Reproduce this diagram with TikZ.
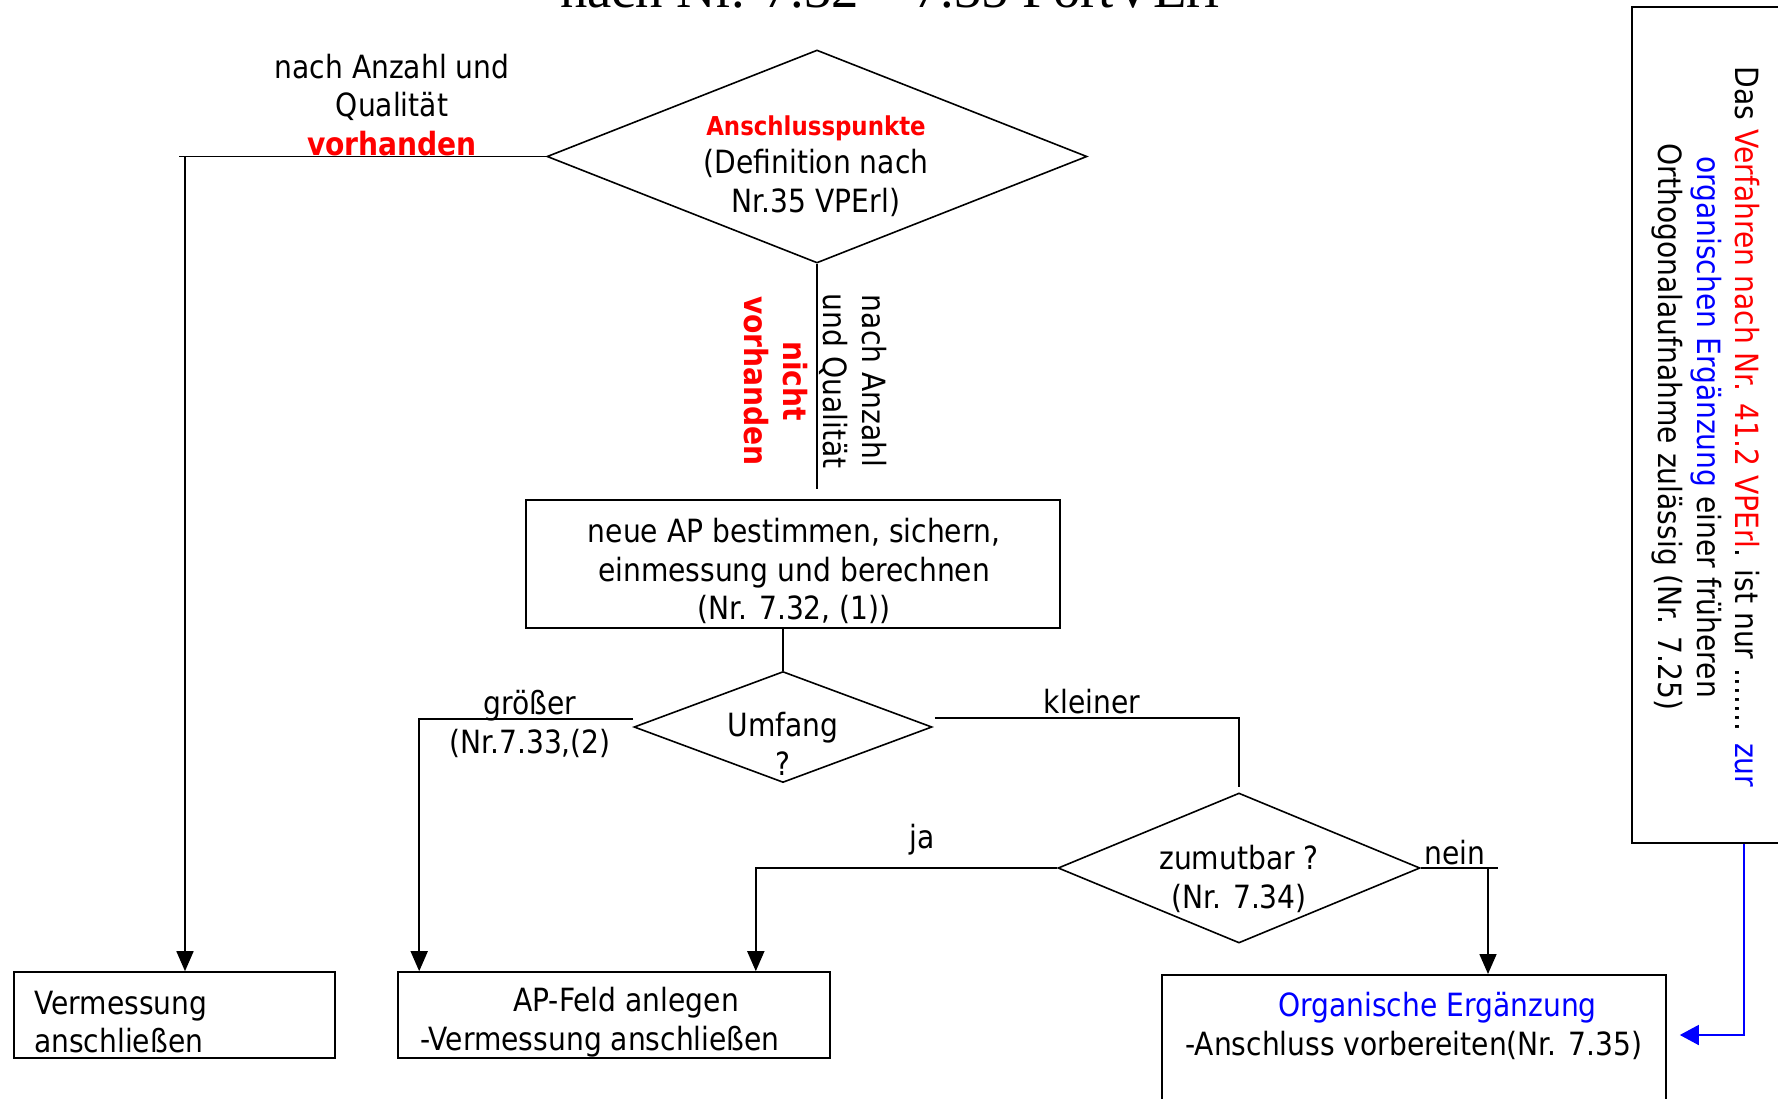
\documentclass[tikz,border=0pt]{standalone}
\usepackage{fontspec}
\setmainfont{DejaVu Sans}[FakeStretch=0.88]
\newfontfamily\titlefont{Liberation Serif}
\usetikzlibrary{shapes.geometric,arrows.meta,calc}
\definecolor{pred}{RGB}{255,0,0}
\definecolor{pblue}{RGB}{0,0,255}
\begin{document}
\begin{tikzpicture}[x=1pt,y=-1pt,
  font=\fontsize{32}{38.5}\selectfont,
  every node/.style={inner sep=0pt},
  line/.style={line width=1.6pt},
  arr/.style={line width=1.6pt, -{Triangle[length=20pt,width=17pt]}},
  dia/.style={draw, line width=1.6pt, diamond, inner sep=0pt},
  box/.style={draw, line width=1.6pt, rectangle},
  lbl/.style={align=center}
]
\fill[white] (0,0) rectangle (1778,1098);
\useasboundingbox (0,0) rectangle (1778,1098);

% title (mostly cut off, as in the reference)
\node[anchor=base, font=\titlefont\fontsize{54.6}{60}\selectfont] (title) at (890,7) {nach Nr. 7.32 – 7.35 FortVErl};

% diamonds
\node[dia, minimum width=540pt, minimum height=213pt] (anschl) at (817,156.5) {};
\node[lbl] (anschltext) at (816,166) {{\fontsize{26}{30}\selectfont\bfseries\color{pred}Anschlusspunkte}\\(Definition nach\\Nr.35 VPErl)};

\node[dia, minimum width=298pt, minimum height=111pt] (umfang) at (783,727) {};
\node[lbl] (umfangtext) at (783,744) {Umfang\\?};

\node[dia, minimum width=362pt, minimum height=150pt] (zum) at (1239,868) {};
\node[lbl] (zumtext) at (1239,879) {zumutbar ?\\(Nr. 7.34)};

% boxes
\node[box, minimum width=534pt, minimum height=128pt] (neue) at (793,564) {};
\node[lbl] (neuetext) at (794,571)
  {neue AP bestimmen, sichern,\\einmessung und berechnen\\(Nr. 7.32, (1))};

\node[box, minimum width=321pt, minimum height=86pt] (verm) at (174.5,1015) {};
\node[align=left, anchor=west] (vermtext) at (34,1022) {Vermessung\\anschließen};

\node[box, minimum width=432pt, minimum height=86pt] (apfeld) at (614,1015) {};
\node[align=left, anchor=west] (apfeldtext) at (420,1022)
  {\hspace*{93pt}AP-Feld anlegen\\-Vermessung anschließen};

\node[box, minimum width=504pt, minimum height=170pt, anchor=north] (orgbox) at (1414,974) {};
\node[align=left, anchor=west] (orgtext) at (1185,1026)
  {\hspace*{93pt}\textcolor{pblue}{Organische Ergänzung}\\-Anschluss vorbereiten(Nr. 7.35)};

\node[box, minimum width=148pt, minimum height=836pt] (rbox) at (1706,425) {};
\node[rotate=-90, align=center] (rtext) at (1706,427)
  {Das \textcolor{pred}{Verfahren nach Nr. 41.2 VPErl}. ist nur ....... \textcolor{pblue}{zur}\\
   \textcolor{pblue}{organischen Ergänzung} einer früheren\\
   Orthogonalaufnahme zulässig (Nr. 7.25)};

% labels
\node[lbl] (lblvorh) at (392,105) {nach Anzahl und\\Qualität\\{\bfseries\color{pred}vorhanden}};
\node[rotate=-90, align=center] (lblnach) at (853,381) {nach Anzahl\\und Qualität};
\node[rotate=-90, align=center, text=pred, font=\fontsize{32}{38.5}\selectfont\bfseries] (lblnicht) at (776,381) {nicht\\vorhanden};
\node[lbl] (lblgr) at (530,724) {größer\\(Nr.7.33,(2)};
\node (lblkl) at (1092,702) {kleiner};
\node (lblja) at (922,840) {ja};
\node (lblnein) at (1455,853) {nein};

% connectors
\draw[line] (anschl.west) -- ($(anschl.west)+(-367,0)$);
\draw[arr] (anschl.west) -| ($(verm.north)+(10.5,0)$);
\draw[line] (anschl.south) -- ($(anschl.south |- neue.north)+(0,-10)$);
\draw[line] (neue.south -| umfang.north) -- (umfang.north);
\draw[arr] ($(umfang.west)+(0,-8)$) -| ($(apfeld.north west)+(22,0)$);
\draw[line] ($(umfang.east)+(2,-9)$) -| ($(zum.north)+(0,-5)$);
\draw[arr] (zum.west) -| ($(apfeld.north east)+(-75,0)$);
\draw[line] (zum.east) -- ++(77,0);
\draw[arr] (zum.east) -| ($(orgbox.north)+(74,0)$);
\draw[line, pblue, -{Triangle[length=19pt,width=20pt]}] ($(rbox.south)+(38,0)$) |- ($(orgbox.north east)+(13,61)$);
\end{tikzpicture}
\end{document}
